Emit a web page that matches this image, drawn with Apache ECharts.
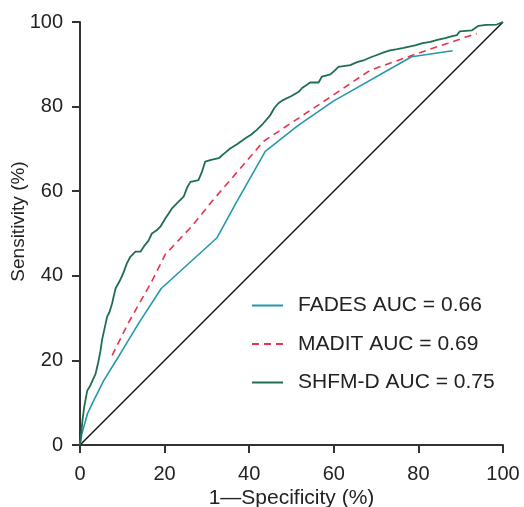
<!DOCTYPE html>
<html><head><meta charset="utf-8">
<script src="https://cdn.jsdelivr.net/npm/echarts@6/dist/echarts.min.js"></script>
<style>html,body{margin:0;padding:0;background:#fff}#c{width:524px;height:507px}</style>
</head><body><div id="c"></div>
<script>
const xTicks = [0, 20, 40, 60, 80, 100];
const yTicks = [0, 20, 40, 60, 80, 100];
const seriesNames = ['FADES AUC = 0.66', 'MADIT AUC = 0.69', 'SHFM-D AUC = 0.75'];
const diagonal = [[0, 0], [100, 100]];
const fades = [[0,0],[0.4,2.5],[0.9,4.3],[1.8,7.5],[3.3,10.6],[5.6,15.2],[9.6,21.7],[14,29],[19.2,37],[32.4,49],[37.1,57.6],[43.8,69.4],[51.5,75.5],[59.9,81.3],[78.4,91.8],[88.1,93.2]];
const madit = [[7.6,21.2],[11.5,29],[16.6,38],[20.2,45.1],[26.5,51.8],[31.2,57.6],[40.3,68.2],[43.4,71.8],[50.5,76.5],[57.6,81.2],[68.6,88.6],[79.6,92.5],[87,95],[93.8,97.3]];
const shfmd = [[0,0],[0.3,3],[0.6,6],[1.0,9],[1.7,12.8],[2.5,14.2],[3.7,16.9],[4.3,19.5],[4.8,22],[5.2,24.8],[5.8,27.5],[6.4,30.3],[7.0,31.5],[7.6,33.5],[8.4,37],[9.5,39],[10.3,40.8],[11.1,43],[11.9,44.5],[12.6,45.2],[13.1,45.7],[14.3,45.7],[15.3,47.2],[16.2,48.3],[17,50],[18.2,50.8],[19,51.6],[20.2,53.6],[21,54.8],[21.8,56],[22.9,57.1],[24.5,58.7],[25.3,60.8],[26.1,62.2],[27,62.4],[28,62.6],[28.8,64.5],[29.6,67],[31,67.4],[32.8,67.8],[34.2,69],[35.5,70.1],[37.3,71.2],[39.1,72.5],[40.5,73.4],[41.8,74.5],[43.3,76],[45,78],[45.9,79.6],[46.9,80.8],[48.1,81.6],[50,82.5],[51.7,83.5],[52.5,84.4],[53.4,85],[54.4,85.7],[56.4,85.7],[57.2,87.1],[59.2,87.6],[60.2,88.5],[61.1,89.4],[63.9,89.8],[65.5,90.5],[67,90.9],[68.6,91.6],[70.2,92.2],[71.8,92.8],[73.3,93.3],[75,93.6],[76.5,93.9],[79.2,94.5],[81,95],[82.8,95.3],[84.5,95.8],[86.3,96.2],[87.8,96.6],[89.1,96.9],[89.8,97.8],[92.6,98],[94.2,99.1],[96,99.3],[98.5,99.4],[100,100]];

const colors = ['#2399ad', '#e6334f', '#1f6e51'];
const font = 'Liberation Sans, Arial, sans-serif';
const chart = echarts.init(document.getElementById('c'));
chart.setOption({
  animation: false,
  grid: { left: 80, right: 21, top: 22, bottom: 62, containLabel: false, outerBoundsMode: 'none' },
  xAxis: {
    type: 'value', min: 0, max: 100, interval: 20,
    name: '1\u2014Specificity (%)', nameLocation: 'middle', nameGap: 42.5, nameMoveOverlap: false,
    nameTextStyle: { fontFamily: font, fontSize: 21, color: '#222' },
    axisLine: { lineStyle: { color: '#333', width: 2 } },
    axisTick: { length: 8, lineStyle: { color: '#333', width: 2 } },
    axisLabel: { fontFamily: font, fontSize: 20, color: '#222', margin: 19,
      formatter: v => xTicks.includes(v) ? String(v) : '' },
    splitLine: { show: false }
  },
  yAxis: {
    type: 'value', min: 0, max: 100, interval: 20,
    name: 'Sensitivity (%)', nameLocation: 'middle', nameGap: 52, nameRotate: 90, nameMoveOverlap: false,
    nameTextStyle: { fontFamily: font, fontSize: 19, color: '#222', padding: [0, 0, 0, 24] },
    axisLine: { lineStyle: { color: '#333', width: 2 } },
    axisTick: { length: 8, lineStyle: { color: '#333', width: 2 } },
    axisLabel: { fontFamily: font, fontSize: 20, color: '#222', margin: 17,
      formatter: v => yTicks.includes(v) ? String(v) : '' },
    splitLine: { show: false }
  },
  legend: {
    orient: 'vertical', left: 251, top: 295, padding: 0,
    itemWidth: 31, itemHeight: 14, itemGap: 17.5,
    itemStyle: { opacity: 0 },
    data: seriesNames,
    textStyle: { fontFamily: font, fontSize: 21, color: '#222', lineHeight: 21, padding: [0,0,0,10] }
  },
  series: [
    { type: 'line', data: diagonal, symbol: 'none', silent: true,
      lineStyle: { color: '#111', width: 1.5 }, z: 1 },
    { name: seriesNames[0], type: 'line', data: fades, symbol: 'none',
      color: colors[0], lineStyle: { color: colors[0], width: 1.6 } },
    { name: seriesNames[1], type: 'line', data: madit, symbol: 'none',
      color: colors[1], lineStyle: { color: colors[1], width: 1.6, type: [7, 5] } },
    { name: seriesNames[2], type: 'line', data: shfmd, symbol: 'none',
      color: colors[2], lineStyle: { color: colors[2], width: 1.8 } }
  ]
});
</script></body></html>
